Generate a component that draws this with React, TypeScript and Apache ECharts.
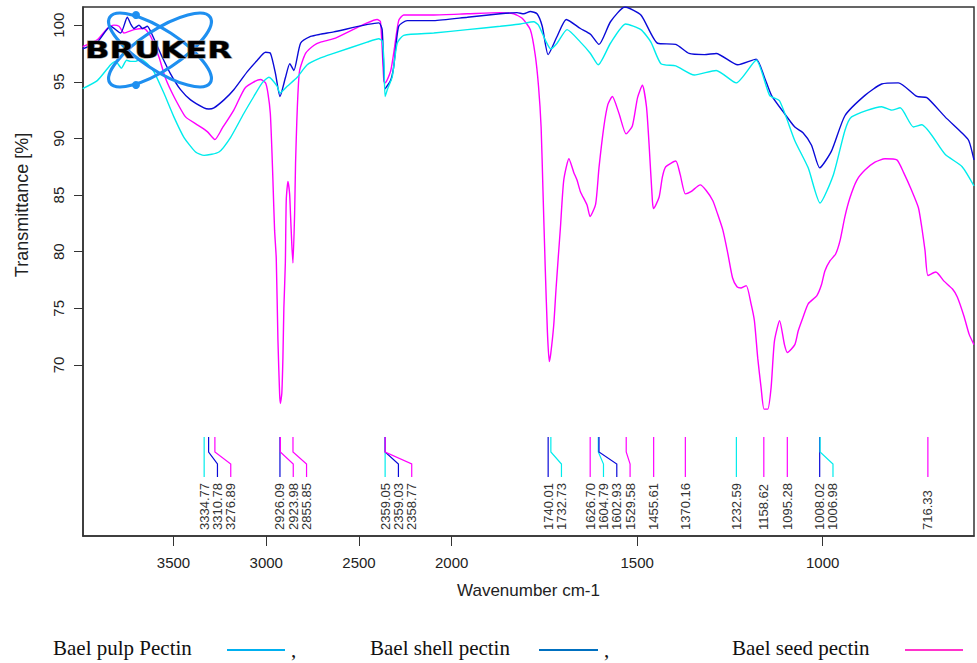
import React, { useEffect, useRef } from "react";
import * as echarts from "echarts";

// ---------- data ----------
const PULP_WN = [3990,3911,3839,3812,3781,3753,3731,3704,3677,3641,3606,3552,3498,3444,3381,3335,3255,3192,3121,3067,3022,2986,2941,2926,2887,2833,2779,2707,2637,2456,2393,2375,2366,2359,2345,2321,2294,2259,2097,1958,1869,1815,1779,1766,1748,1733,1716,1689,1653,1626,1605,1572,1531,1490,1463,1436,1396,1346,1287,1233,1179,1143,1116,1075,1039,1007,971,940,922,841,814,791,755,733,670,624,592];
const PULP_T = [94.4,95.1,96.5,96.8,96.2,96.9,96.8,96.8,97.0,96.6,95.9,94.0,91.9,90.1,88.8,88.5,88.8,90.1,92.2,93.7,94.9,95.4,94.6,94.0,94.6,95.4,96.5,97.1,97.5,98.5,98.8,98.6,97.0,93.7,94.4,95.4,98.4,99.1,99.3,99.6,99.9,100.1,100.3,100.0,98.7,97.9,98.4,99.6,98.5,97.5,96.5,98.4,100.1,99.6,98.5,96.6,96.4,95.6,96.0,94.9,96.9,93.8,93.3,89.8,87.4,84.3,86.8,90.7,91.9,92.8,92.5,92.7,91.0,91.2,88.6,87.5,85.8];

const SHELL_WN = [3990,3911,3839,3785,3749,3731,3713,3686,3668,3641,3614,3570,3516,3462,3408,3336,3310,3282,3228,3175,3102,3048,3004,2977,2950,2926,2896,2873,2851,2815,2761,2707,2636,2393,2375,2359,2330,2313,2286,2240,2097,1958,1869,1824,1806,1788,1770,1756,1740,1716,1691,1653,1626,1603,1572,1533,1490,1445,1396,1360,1319,1287,1229,1179,1157,1138,1103,1075,1053,1030,1008,976,940,886,841,796,746,719,670,625,606,592];
const SHELL_T = [97.9,98.5,99.9,99.3,100.7,100.1,99.7,100.0,99.7,99.9,99.1,97.5,95.7,94.3,93.4,92.7,92.6,92.7,93.4,94.3,95.9,96.9,97.6,97.5,95.7,93.7,95.4,96.6,96.0,98.4,99.0,99.2,99.4,100.2,99.6,94.4,95.1,96.3,99.9,100.4,100.4,100.7,101.0,101.1,101.0,101.2,101.0,99.9,97.4,99.0,100.5,99.7,99.2,98.3,100.3,101.6,100.9,98.4,98.3,97.5,97.4,97.5,96.5,97.0,95.4,93.8,92.2,91.0,90.5,89.4,87.4,88.9,92.0,93.8,94.8,94.9,93.7,93.6,91.9,90.5,89.8,88.1];

const SEED_WN = [3990,3911,3857,3821,3794,3767,3713,3659,3623,3579,3543,3498,3435,3372,3318,3277,3237,3175,3112,3031,3004,2991,2978,2969,2964,2955,2946,2937,2928,2924,2916,2910,2905,2897,2892,2883,2874,2869,2862,2856,2847,2842,2835,2829,2820,2788,2744,2707,2636,2546,2456,2402,2384,2366,2359,2330,2313,2286,2259,2097,1958,1869,1833,1810,1788,1775,1766,1759,1754,1748,1742,1737,1733,1725,1719,1713,1707,1698,1684,1671,1662,1653,1635,1627,1612,1603,1590,1579,1567,1549,1530,1513,1499,1486,1475,1468,1459,1456,1441,1432,1423,1396,1384,1370,1355,1330,1314,1296,1283,1269,1256,1243,1231,1220,1206,1193,1184,1175,1166,1158,1148,1139,1130,1116,1103,1095,1075,1066,1053,1039,1016,1003,994,980,965,953,940,926,908,886,859,832,800,782,760,742,733,724,716,695,673,650,637,619,605,592];
const SEED_T = [98.1,98.7,99.7,100.0,99.9,99.3,99.6,99.7,99.0,97.2,95.3,93.7,91.9,91.2,90.6,89.9,90.9,92.5,94.5,95.2,94.9,94.0,92.2,88.7,86.3,81.9,79.4,72.2,67.5,66.6,67.5,70.7,75.0,79.0,84.6,86.2,85.1,83.2,80.6,79.0,83.4,87.8,91.6,94.0,96.0,97.5,98.2,98.5,98.8,99.5,100.2,100.5,100.3,95.1,94.9,95.9,97.5,100.4,100.9,100.9,101.0,101.1,101.0,100.6,99.6,97.4,94.6,91.0,85.4,78.7,72.9,70.3,71.0,73.5,76.6,79.4,82.1,86.3,88.2,87.0,86.3,85.3,84.1,83.1,84.2,87.4,91.0,93.0,93.7,92.2,90.4,91.1,93.6,94.7,92.8,89.5,84.5,83.8,84.8,86.6,87.5,88.0,86.8,85.1,85.3,85.9,85.4,84.5,83.3,81.9,79.9,77.7,76.9,76.8,77.0,75.4,73.9,70.6,68.0,66.1,66.1,68.0,72.1,73.9,71.8,71.1,71.8,73.0,74.2,75.4,76.1,77.1,78.3,79.2,79.8,81.0,83.1,84.8,86.3,87.2,87.9,88.2,88.1,87.0,85.4,83.9,82.2,80.1,77.9,78.2,77.4,76.7,76.0,74.3,72.7,71.8];

const SERIES_NAMES = ["Bael pulp Pectin", "Bael shell pectin", "Bael seed pectin"];

// peak picks (wavenumber, which sample: 0 pulp, 1 shell, 2 seed)
const PEAK_WN = [3334.77,3310.78,3276.89,2926.09,2923.98,2855.85,2359.05,2359.03,2358.77,1740.01,1732.73,1626.70,1604.79,1602.93,1529.58,1455.61,1370.16,1232.59,1158.62,1095.28,1008.02,1006.98,716.33];
const PEAK_SAMPLE = [0,1,2,1,2,2,0,1,2,1,0,2,0,1,2,2,2,0,2,2,1,0,2];

const X_TICKS = [3500, 3000, 2500, 2000, 1500, 1000];
const Y_TICKS = [70, 75, 80, 85, 90, 95, 100];

// ---------- styling ----------
const COLORS = ["#00ecec", "#0a0ad8", "#ff00ff"];
const LEGEND_COLORS = ["#00b0f0", "#0070c0", "#ff33cc"];
const SANS = '"Liberation Sans", Arial, sans-serif';
const SERIF = '"Liberation Serif", "Times New Roman", serif';

// split wavenumber scale (2x expansion below 2000 cm-1)
const toU = (w: number) => (w >= 2000 ? (4000 - w) / 2 : 1000 + (2000 - w));
const fromU = (u: number) => (u <= 1000 ? 4000 - 2 * u : 3000 - u);

export default function App() {
  const ref = useRef<HTMLDivElement>(null);
  useEffect(() => {
    if (!ref.current) return;
    const chart = echarts.init(ref.current, undefined, { renderer: "svg" });
    const lineSeries = [
      [PULP_WN, PULP_T],
      [SHELL_WN, SHELL_T],
      [SEED_WN, SEED_T],
    ].map(([wn, t], s) => ({
      type: "line",
      name: SERIES_NAMES[s],
      data: (wn as number[]).map((w, k) => [toU(w), (t as number[])[k]]),
      symbol: "none",
      smooth: 0.2,
      lineStyle: { color: COLORS[s], width: 1.4 },
      itemStyle: { color: COLORS[s] },
      z: 3 - s + 2,
    }));

    const peakSeries = {
      type: "custom",
      data: PEAK_WN.map((w) => [toU(w), 60]),
      encode: { x: 0, y: 1 },
      silent: true,
      z: 1,
      renderItem: (params: any, api: any) => {
        const i = params.dataIndex;
        const cs = params.coordSys;
        const bottom = cs.y + cs.height;
        const px = PEAK_WN.map((w) => api.coord([toU(w), 60])[0]);
        const lx: number[] = [];
        for (let k = 0; k < px.length; k++) {
          lx.push(k === 0 ? px[k] : Math.max(px[k], lx[k - 1] + 13.3));
        }
        const color = COLORS[PEAK_SAMPLE[i]];
        const x0 = px[i];
        const x1 = lx[i];
        const pts =
          x1 - x0 < 0.5
            ? [[x0, bottom - 99], [x0, bottom - 59]]
            : [[x0, bottom - 99], [x0, bottom - 84], [x1, bottom - 72], [x1, bottom - 59]];
        return {
          type: "group",
          children: [
            {
              type: "polyline",
              shape: { points: pts },
              style: { stroke: color, lineWidth: 1.2, fill: "none" },
            },
            {
              type: "text",
              x: x1,
              y: bottom - 6,
              rotation: Math.PI / 2,
              style: {
                text: PEAK_WN[i].toFixed(2),
                fill: "#333",
                fontSize: 13,
                fontFamily: SANS,
                align: "left",
                verticalAlign: "middle",
              },
            },
          ],
        };
      },
    };

    const legendGraphics: any[] = [];
    const legendTextX = [53, 370, 732];
    const legendLine = [[227, 285], [539, 598], [905, 963]];
    const commaX = [291, 604, -1];
    SERIES_NAMES.forEach((n, s) => {
      legendGraphics.push({
        type: "text",
        x: legendTextX[s],
        y: 648,
        style: { text: n, fontSize: 21, fontFamily: SERIF, fill: "#111", align: "left", verticalAlign: "middle" },
      });
      legendGraphics.push({
        type: "line",
        shape: { x1: legendLine[s][0], y1: 650, x2: legendLine[s][1], y2: 650 },
        style: { stroke: LEGEND_COLORS[s], lineWidth: 2 },
      });
      if (commaX[s] > 0) {
        legendGraphics.push({
          type: "text",
          x: commaX[s],
          y: 650,
          style: { text: ",", fontSize: 21, fontFamily: SERIF, fill: "#111", align: "left", verticalAlign: "middle" },
        });
      }
    });

    const logoBlue = "#1e8ff0";
    const option: any = {
      animation: false,
      backgroundColor: "#ffffff",
      grid: { left: 83, right: 3, top: 7, bottom: 127, show: true, borderColor: "#333", borderWidth: 1.5 },
      xAxis: {
        type: "value",
        min: toU(3988),
        max: toU(592),
        axisLine: { show: true, onZero: false, lineStyle: { color: "#333", width: 1.5 } },
        axisTick: { show: true, length: 10, customValues: X_TICKS.map(toU), lineStyle: { color: "#333" } },
        axisLabel: {
          customValues: X_TICKS.map(toU),
          formatter: (v: number) => String(Math.round(fromU(v))),
          fontSize: 15,
          color: "#222",
          fontFamily: SANS,
          margin: 19,
        },
        splitLine: { show: false },
        name: "Wavenumber cm-1",
        nameLocation: "middle",
        nameGap: 46,
        nameTextStyle: { fontSize: 17, color: "#222", fontFamily: SANS },
      },
      yAxis: {
        type: "value",
        min: 54.9,
        max: 101.6,
        axisLine: { show: true, lineStyle: { color: "#333", width: 1.5 } },
        axisTick: { show: true, length: 9, customValues: Y_TICKS, lineStyle: { color: "#333" } },
        axisLabel: {
          customValues: Y_TICKS,
          rotate: 90,
          fontSize: 15,
          color: "#222",
          fontFamily: SANS,
          margin: 17,
        },
        splitLine: { show: false },
      },
      series: [...lineSeries, peakSeries],
      graphic: [
        {
          type: "text",
          x: 22,
          y: 205,
          rotation: Math.PI / 2,
          style: { text: "Transmittance [%]", fontSize: 18, fontFamily: SANS, fill: "#222", align: "center", verticalAlign: "middle" },
        },
        {
          type: "ellipse",
          x: 160,
          y: 50,
          rotation: 0.58,
          shape: { cx: 0, cy: 0, rx: 60, ry: 20 },
          style: { fill: "none", stroke: logoBlue, lineWidth: 3.2 },
          z: 100,
        },
        {
          type: "ellipse",
          x: 160,
          y: 50,
          rotation: -0.58,
          shape: { cx: 0, cy: 0, rx: 60, ry: 20 },
          style: { fill: "none", stroke: logoBlue, lineWidth: 3.2 },
          z: 100,
        },
        { type: "circle", shape: { cx: 136, cy: 15, r: 4 }, style: { fill: logoBlue }, z: 101 },
        { type: "circle", shape: { cx: 136, cy: 85, r: 4 }, style: { fill: logoBlue }, z: 101 },
        {
          type: "text",
          x: 158.5,
          y: 50,
          scaleX: 1.4,
          style: {
            text: "BRUKER",
            fontSize: 23,
            fontWeight: "bold",
            fontFamily: '"DejaVu Sans", sans-serif',
            fill: "#000",
            stroke: "#888",
            lineWidth: 1,
            align: "center",
            verticalAlign: "middle",
          },
          z: 102,
        },
        ...legendGraphics,
      ],
    };
    chart.setOption(option);
    return () => chart.dispose();
  }, []);
  return <div ref={ref} style={{ position: "absolute", left: 0, top: 0, width: 977, height: 663 }} />;
}
